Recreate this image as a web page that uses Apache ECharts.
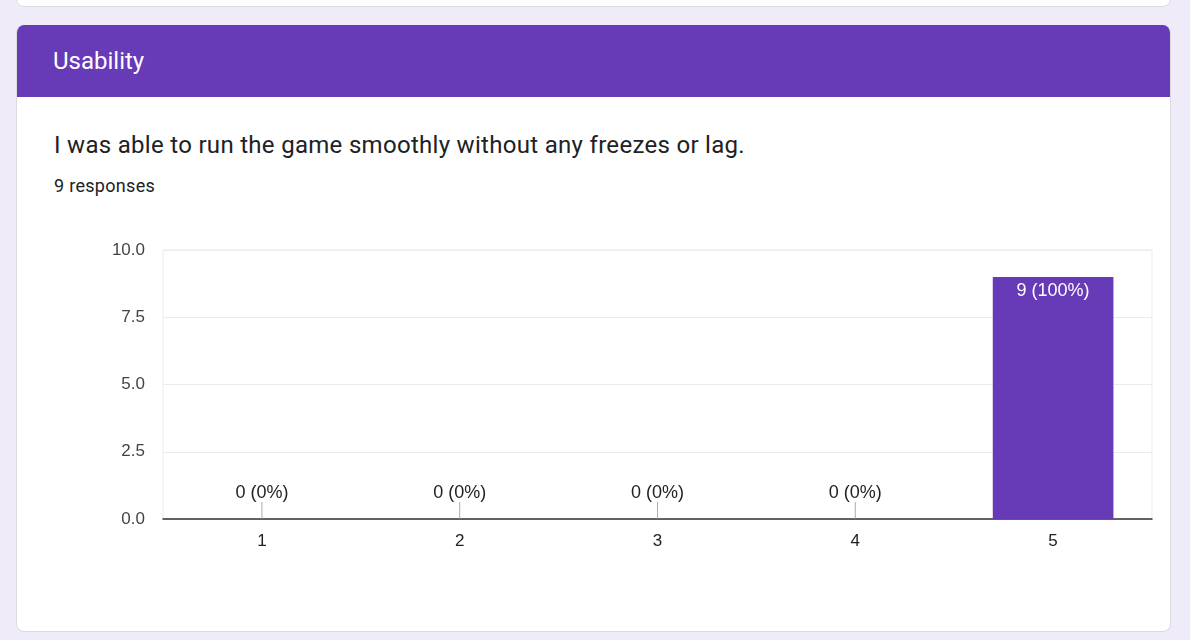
<!DOCTYPE html>
<html>
<head>
<meta charset="utf-8">
<script src="https://cdn.jsdelivr.net/npm/echarts@6/dist/echarts.min.js"></script>
<style>
  html, body { margin:0; padding:0; width:1190px; height:640px; overflow:hidden; background:#f0ebf8; font-family: Roboto, "Open Sans", sans-serif; }
  .card { position:absolute; background:#fff; border:1px solid #dadce0; border-radius:8px; box-sizing:border-box; }
  #prev { left:16px; top:-20px; width:1155px; height:27px; }
  #main { left:16px; top:25px; width:1155px; height:607px; overflow:hidden; border-top:none; }
  #hdr { position:absolute; left:0; top:0; right:0; height:72px; background:#673ab7; }
  #hdr span { position:absolute; left:36px; top:22px; line-height:28px; color:#fff; font-size:24px; font-family:Roboto, sans-serif; }
  #q { position:absolute; left:54px; top:131px; line-height:28px; font-size:24px; letter-spacing:0.3px; color:#202124; }
  #r { position:absolute; left:54px; top:176px; line-height:20px; font-size:18px; letter-spacing:0.3px; color:#202124; }
  #chart { position:absolute; left:0; top:0; width:1190px; height:640px; }
</style>
</head>
<body>
<div class="card" id="prev"></div>
<div class="card" id="main"><div id="hdr"><span>Usability</span></div></div>
<div id="q">I was able to run the game smoothly without any freezes or lag.</div>
<div id="r">9 responses</div>
<div id="chart"></div>
<script>
const categories = ['1', '2', '3', '4', '5'];
const counts = [0, 0, 0, 0, 9];
const yTicks = { min: 0, max: 10, interval: 2.5 };

const total = counts.reduce((a, b) => a + b, 0);
const labelText = v => v + ' (' + Math.round(total ? v / total * 100 : 0) + '%)';

const barData = counts.map(v => ({
  value: v,
  label: v === 0
    ? { position: 'top', distance: 17, color: '#222' }
    : { position: 'insideTop', distance: 5, color: '#fff' }
}));
const stemData = counts.map((v, i) => v === 0 ? [i, v] : null).filter(Boolean);

const chart = echarts.init(document.getElementById('chart'), null, { renderer: 'canvas' });
chart.setOption({
  animation: false,
  grid: { left: 163, right: 38, top: 250, bottom: 121, show: true, borderColor: '#ebebeb', borderWidth: 1, backgroundColor: 'transparent' },
  xAxis: {
    type: 'category',
    data: categories,
    axisLine: { lineStyle: { color: '#333', width: 1.5 } },
    axisTick: { show: false },
    axisLabel: { color: '#222', fontSize: 17, fontFamily: 'Liberation Sans, Arial', margin: 14 },
    splitLine: { show: false }
  },
  yAxis: {
    type: 'value',
    min: yTicks.min, max: yTicks.max, interval: yTicks.interval,
    axisLine: { show: false },
    axisTick: { show: false },
    axisLabel: { color: '#444', fontSize: 17, fontFamily: 'Liberation Sans, Arial', margin: 18, formatter: v => v.toFixed(1) },
    splitLine: { lineStyle: { color: '#ebebeb', width: 1 } }
  },
  series: [
    {
      type: 'bar',
      data: barData,
      barWidth: '61%',
      itemStyle: { color: '#673ab7' },
      label: { show: true, fontSize: 18, fontFamily: 'Liberation Sans, Arial', formatter: p => labelText(p.value) },
      z: 2
    },
    {
      type: 'scatter',
      data: stemData,
      symbol: 'rect',
      symbolSize: [1, 17],
      symbolOffset: [0, '-50%'],
      itemStyle: { color: '#999' },
      silent: true,
      z: 3
    }
  ]
});
</script>
</body>
</html>
